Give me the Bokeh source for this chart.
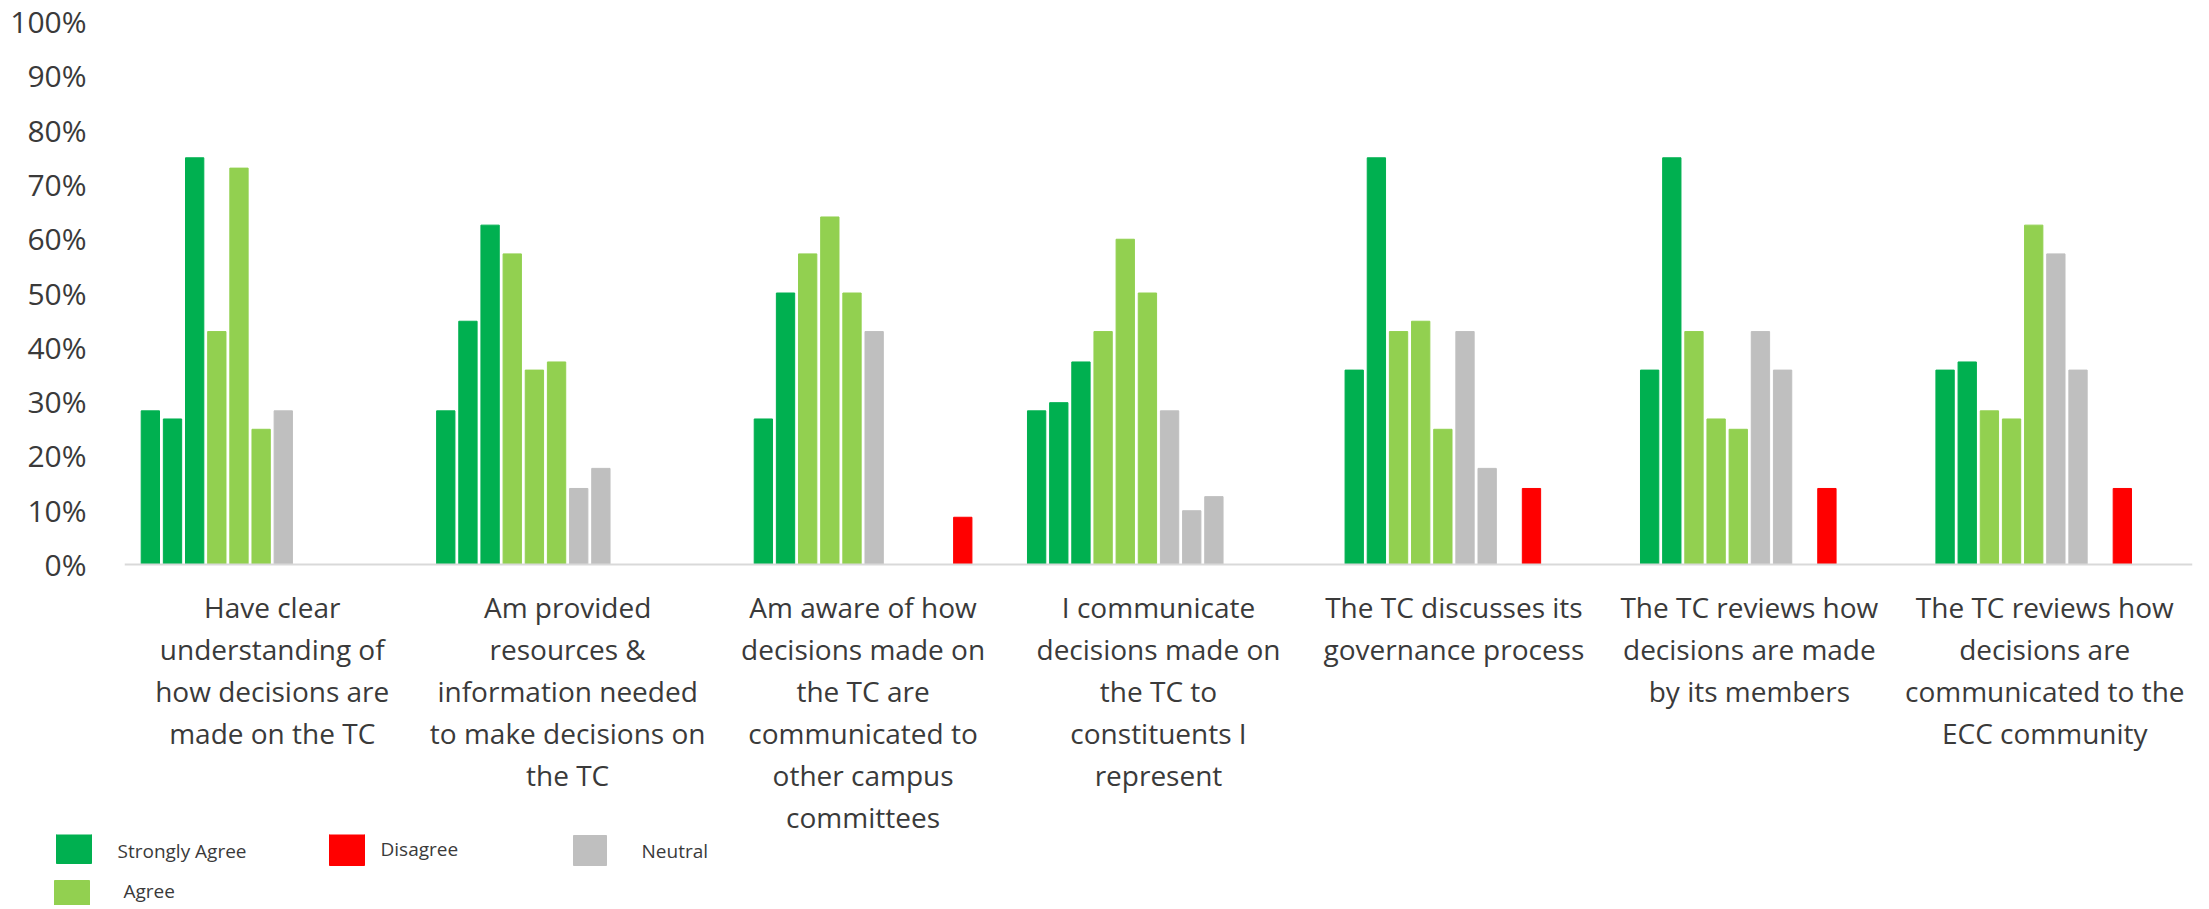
from bokeh.plotting import figure
from bokeh.models import Range1d, FixedTicker, PrintfTickFormatter, ColumnDataSource, Span
from bokeh.layouts import column
from bokeh.embed import file_html
from bokeh.resources import INLINE
from bokeh.core.properties import value

# ---------------- data ----------------
categories = [
    "Have clear\nunderstanding of\nhow decisions are\nmade on the TC",
    "Am provided\nresources &\ninformation needed\nto make decisions on\nthe TC",
    "Am aware of how\ndecisions made on\nthe TC are\ncommunicated to\nother campus\ncommittees",
    "I communicate\ndecisions made on\nthe TC to\nconstituents I\nrepresent",
    "The TC discusses its\ngovernance process",
    "The TC reviews how\ndecisions are made\nby its members",
    "The TC reviews how\ndecisions are\ncommunicated to the\nECC community",
]

# twelve series per question (percent), None = no bar
sa_1 = [28.3, 28.3, None, 28.3, None, None, None]
sa_2 = [26.8, 44.8, 26.8, 29.8, 35.8, 35.8, 35.8]
sa_3 = [74.9, 62.5, 50.0, 37.3, 74.9, 74.9, 37.3]
ag_1 = [42.9, 57.2, 57.2, 42.9, 42.9, 42.9, 28.3]
ag_2 = [73.0, 35.8, 64.0, 59.9, 44.8, 26.8, 26.8]
ag_3 = [24.9, 37.3, 50.0, 50.0, 24.9, 24.9, 62.5]
ne_1 = [28.3, 14.0, 42.9, 28.3, 42.9, 42.9, 57.2]
ne_2 = [None, 17.7, None, 9.9, 17.7, 35.8, 35.8]
ne_3 = [None, None, None, 12.5, None, None, None]
di_1 = [None, None, None, None, 14.0, 14.0, 14.0]
di_2 = [None, None, 8.7, None, None, None, None]
di_3 = [None, None, None, None, None, None, None]

series = [sa_1, sa_2, sa_3, ag_1, ag_2, ag_3, ne_1, ne_2, ne_3, di_1, di_2, di_3]
series_response = ["Strongly Agree"] * 3 + ["Agree"] * 3 + ["Neutral"] * 3 + ["Disagree"] * 3

y_ticks = [0, 10, 20, 30, 40, 50, 60, 70, 80, 90, 100]

legend_labels = ["Strongly Agree", "Disagree", "Neutral", "Agree"]

# ---------------- styles ----------------
COLORS = {"Strongly Agree": "#00b050", "Agree": "#92d050",
          "Neutral": "#bfbfbf", "Disagree": "#ff0000"}
TEXT_COLOR = "#3a3a3a"
FONT = "Open Sans"

W = 2205
P1_H = 834
P2_H = 71
FRAME_TOP = 21
ZERO_Y = 564          # canvas y of the 0% line
LEFT = 124
RIGHT = W - 2192
PPU = (ZERO_Y - FRAME_TOP) / 100.0   # px per percent
Y_START = -(P1_H - ZERO_Y) / PPU

N_SLOTS = len(series)
GROUP_PAD = 0.05
SLOT_W = (1 - 2 * GROUP_PAD) / N_SLOTS
BAR_W = 0.062

p1 = figure(width=W, height=P1_H, x_range=Range1d(0, len(categories)),
            y_range=Range1d(Y_START, 100), x_axis_location=None,
            toolbar_location=None, output_backend="svg",
            min_border_left=LEFT, min_border_right=RIGHT,
            min_border_top=FRAME_TOP, min_border_bottom=0)
p1.frame_align = False
p1.title.visible = False
p1.outline_line_color = None
p1.xgrid.visible = False
p1.ygrid.visible = False
p1.background_fill_color = "white"

for resp in ["Strongly Agree", "Agree", "Neutral", "Disagree"]:
    xs, tops = [], []
    for k, (vals, r) in enumerate(zip(series, series_response)):
        if r != resp:
            continue
        for c, v in enumerate(vals):
            if v is None:
                continue
            xs.append(c + GROUP_PAD + SLOT_W * (k + 0.5))
            tops.append(v)
    src = ColumnDataSource(dict(x=xs, top=tops))
    p1.vbar(x="x", top="top", bottom=0, width=BAR_W, color=COLORS[resp], source=src)

p1.add_layout(Span(location=0, dimension="width", line_color="#d9d9d9", line_width=2))

ax = p1.yaxis[0]
ax.ticker = FixedTicker(ticks=y_ticks)
ax.formatter = PrintfTickFormatter(format="%d%%")
ax.axis_line_color = None
ax.major_tick_line_color = None
ax.minor_tick_line_color = None
ax.major_label_standoff = 32
ax.major_label_text_font = FONT
ax.major_label_text_font_size = "30px"
ax.major_label_text_color = TEXT_COLOR

# category labels (one text per line)
lx, ly, lt = [], [], []
FIRST_LINE = 42
LINE_STEP = 42
for c, cat in enumerate(categories):
    for i, line in enumerate(cat.split("\n")):
        lx.append(c + 0.5)
        ly.append(-(FIRST_LINE + LINE_STEP * i) / PPU)
        lt.append(line)
p1.text(x=lx, y=ly, text=lt, text_align="center", text_baseline="middle",
        text_font=value(FONT), text_font_size="28px", text_color=TEXT_COLOR)

# ---------------- legend strip (pixel coordinates) ----------------
p2 = figure(width=W, height=P2_H, x_range=Range1d(0, W), y_range=Range1d(P2_H, 0),
            x_axis_location=None, y_axis_location=None, toolbar_location=None,
            output_backend="svg", min_border=0)
p2.frame_align = False
p2.title.visible = False
p2.outline_line_color = None
p2.xgrid.visible = False
p2.ygrid.visible = False

sq_x = [73.5, 346.5, 589.5, 71.5]
sq_y = [14, 15, 16, 61]
sq_w = [35, 35, 33, 35]
sq_h = [30, 32, 30, 30]
tx_x = [117, 380, 641, 123]
tx_y = [16, 14, 16, 56]
p2.rect(x=sq_x, y=sq_y, width=sq_w, height=sq_h,
        color=[COLORS[l] for l in legend_labels])
p2.text(x=tx_x, y=tx_y, text=legend_labels, text_align="left", text_baseline="middle",
        text_font=value(FONT), text_font_size="19px", text_color=TEXT_COLOR)

layout = column(p1, p2, spacing=0)
open("out.html", "w").write(file_html(layout, INLINE))
